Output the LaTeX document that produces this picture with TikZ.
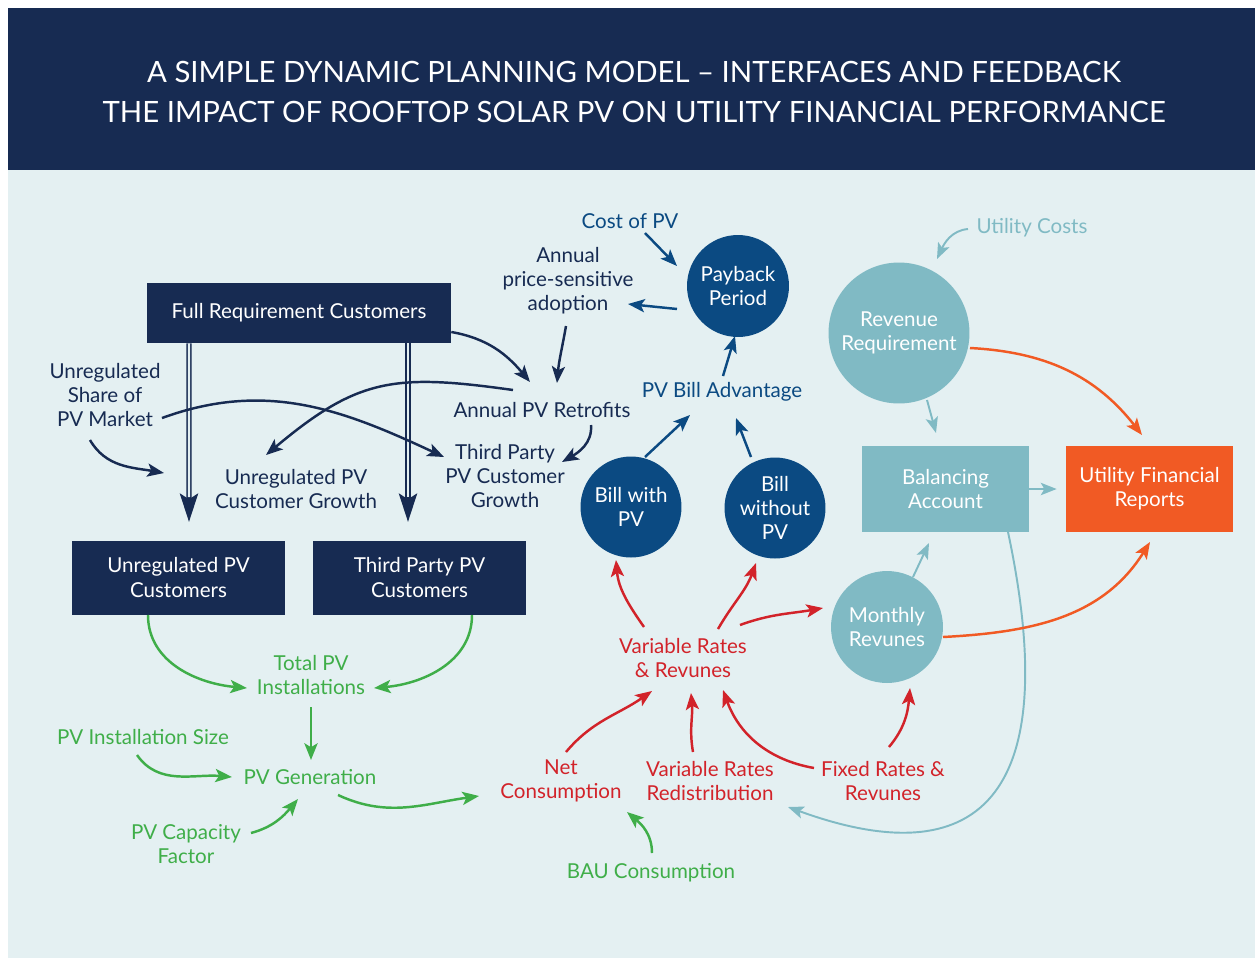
\documentclass[tikz,border=0pt]{standalone}
\usepackage{fontspec}
\setmainfont{Lato}
\usetikzlibrary{arrows.meta}

\definecolor{navy}{HTML}{172B52}
\definecolor{inkblue}{HTML}{0B4A82}
\definecolor{paleblue}{HTML}{E4F0F2}
\definecolor{utilteal}{HTML}{80BAC4}
\definecolor{reportorange}{HTML}{F15A24}
\definecolor{ratered}{HTML}{D2232A}
\definecolor{pvgreen}{HTML}{3FAE49}

\newcommand{\lblfont}{\fontsize{11.7}{13.7}\selectfont}
\newcommand{\headfont}{\fontsize{16.7}{22.8}\selectfont}

\tikzset{
  lbl/.style={inner sep=0pt, align=center, font=\lblfont},
  darkbox/.style={fill=navy, text=white, align=center, font=\lblfont},
  disc/.style={circle, fill=inkblue, text=white, align=center, inner sep=0pt, font=\lblfont},
  arr/.style={line width=1.4pt, -{Stealth[length=9.5pt,width=7.5pt,inset=2.2pt]}},
  thinarr/.style={line width=1.1pt, -{Stealth[length=9pt,width=7pt,inset=2pt]}},
  dblarr/.style={navy, line width=3.1pt, -{Stealth[length=16pt,width=10pt,inset=3pt]}},
}

\begin{document}
\begin{tikzpicture}[x=0.02cm, y=-0.02cm]
  % page, header band and panel
  \fill[white] (0,0) rectangle (1255,961);
  \fill[paleblue] (8,170) rectangle (1255,958);
  \fill[navy] (8,8) rectangle (1255,170);
  \node[lbl, text=white, font=\headfont] (title) at (634,92)
    {A SIMPLE DYNAMIC PLANNING MODEL -- INTERFACES AND FEEDBACK\\
     THE IMPACT OF ROOFTOP SOLAR PV ON UTILITY FINANCIAL PERFORMANCE};

  % customer boxes
  \node[darkbox, minimum width=6.08cm, minimum height=1.2cm] (full) at (299,313) {Full Requirement Customers};
  \node[darkbox, minimum width=4.26cm, minimum height=1.48cm] (unregbox) at (178.5,577.5) {Unregulated PV\\Customers};
  \node[darkbox, minimum width=4.26cm, minimum height=1.48cm] (thirdbox) at (419.5,577.5) {Third Party PV\\Customers};

  % bill circles
  \node[disc, minimum size=2.04cm] (payback) at (738,286) {Payback\\Period};
  \node[disc, minimum size=2.02cm] (billwith) at (631,507) {Bill with\\PV};
  \node[disc, minimum size=2.02cm] (billwo) at (775,508) {Bill\\without\\PV};

  % utility side
  \node[disc, fill=utilteal, minimum size=2.82cm] (revreq) at (899,333) {Revenue\\Requirement};
  \node[darkbox, fill=utilteal, minimum width=3.34cm, minimum height=1.72cm] (balance) at (945.5,489) {Balancing\\Account};
  \node[darkbox, fill=reportorange, minimum width=3.34cm, minimum height=1.72cm] (reports) at (1149.5,489) {Utility Financial\\Reports};
  \node[disc, fill=utilteal, minimum size=2.24cm] (monthly) at (887,627) {Monthly\\Revunes};

  % text labels
  \node[lbl, text=inkblue] (costpv) at (630,221) {Cost of PV};
  \node[lbl, text=navy] (adopt) at (568,281) {Annual\\price-sensitive\\adoption};
  \node[lbl, text=inkblue] (billadv) at (722,392) {PV Bill Advantage};
  \node[lbl, text=navy] (retro) at (542,410) {Annual PV Retrofits};
  \node[lbl, text=navy] (share) at (105,395) {Unregulated\\Share of\\PV Market};
  \node[lbl, text=navy] (unreggrowth) at (296,489) {Unregulated PV\\Customer Growth};
  \node[lbl, text=navy] (thirdgrowth) at (505,476) {Third Party\\PV Customer\\Growth};
  \node[lbl, text=utilteal] (utilcost) at (1032,228) {Utility Costs};
  \node[lbl, text=pvgreen] (totalpv) at (311,675) {Total PV\\Installations};
  \node[lbl, text=pvgreen] (instsize) at (143,737) {PV Installation Size};
  \node[lbl, text=pvgreen] (pvgen) at (310,777) {PV Generation};
  \node[lbl, text=pvgreen] (capfac) at (186,844) {PV Capacity\\Factor};
  \node[lbl, text=pvgreen] (bau) at (651,873) {BAU Consumption};
  \node[lbl, text=ratered] (varrates) at (683,658) {Variable Rates\\\& Revunes};
  \node[lbl, text=ratered] (netcons) at (561,781) {Net\\Consumption};
  \node[lbl, text=ratered] (varredist) at (710,781) {Variable Rates\\Redistribution};
  \node[lbl, text=ratered] (fixed) at (883,781) {Fixed Rates \&\\Revunes};

  % double flows out of the full requirement box
  \foreach \dx/\ex/\target in {-110/10.5/unregbox, 109/-11.5/thirdbox}{
    \draw[dblarr] ([shift={(\dx,0)}]full.south) -- ([shift={(\ex,-18)}]\target.north);
    \draw[paleblue, line width=1.3pt] ([shift={(\dx,0)}]full.south) -- ([shift={(\ex,-43)}]\target.north);
  }

  % adoption links
  \draw[arr, navy] ([shift={(0,19)}]full.east) to[out=-10,in=130] ([shift={(-12,-28)}]retro.center);
  \draw[arr, navy] ([shift={(-2,45)}]adopt.center) to[out=-100,in=85] ([shift={(15,-27)}]retro.center);
  \draw[arr, navy] ([shift={(-29,-20)}]retro.center) to[out=172,in=40,looseness=1.2] ([shift={(-30,-34)}]unreggrowth.center);
  \draw[arr, navy] ([shift={(57,23)}]share.center) to[out=20,in=155] ([shift={(-61,-19)}]thirdgrowth.center);
  \draw[arr, navy] ([shift={(-15,45)}]share.center) to[out=-60,in=170] ([shift={(-132,-16)}]unreggrowth.center);
  \draw[arr, navy] ([shift={(49,15)}]retro.center) to[out=-85,in=30] ([shift={(57,-14)}]thirdgrowth.center);

  % payback links
  \draw[arr, inkblue] ([shift={(15,12)}]costpv.center) -- ([shift={(-61,-20)}]payback.center);
  \draw[arr, inkblue] ([shift={(-61,23)}]payback.center) -- ([shift={(60,23)}]adopt.center);
  \draw[arr, inkblue] ([shift={(1,-16)}]billadv.center) -- ([shift={(-3,50)}]payback.center);
  \draw[arr, inkblue] ([shift={(14,-50)}]billwith.center) -- ([shift={(-32,23)}]billadv.center);
  \draw[arr, inkblue] ([shift={(-24,-51)}]billwo.center) -- ([shift={(14,26)}]billadv.center);

  % rate links
  \draw[arr, ratered] ([shift={(-39,-31)}]varrates.center) to[out=125,in=-85] ([shift={(-15,53)}]billwith.center);
  \draw[arr, ratered] ([shift={(35,-29)}]varrates.center) to[out=60,in=-110] ([shift={(-19,55)}]billwo.center);
  \draw[arr, ratered] ([shift={(57,-33)}]varrates.center) to[out=20,in=190] ([shift={(-64,-19)}]monthly.center);
  \draw[arr, ratered] ([shift={(5,-29)}]netcons.center) to[out=50,in=215] ([shift={(-31,33)}]varrates.center);
  \draw[arr, ratered] ([shift={(-17,-29)}]varredist.center) to[out=100,in=-85] ([shift={(8,35)}]varrates.center);
  \draw[arr, ratered] ([shift={(-69,-13)}]fixed.center) to[out=170,in=-70] ([shift={(40,32)}]varrates.center);
  \draw[arr, ratered] ([shift={(6,-34)}]fixed.center) to[out=50,in=-95] ([shift={(23,61)}]monthly.center);

  % utility links
  \draw[thinarr, utilteal] ([shift={(-64,1)}]utilcost.center) to[out=185,in=65] ([shift={(38,-74)}]revreq.center);
  \draw[thinarr, utilteal] ([shift={(28,67)}]revreq.center) -- ([shift={(-9.5,-56)}]balance.center);
  \draw[thinarr, utilteal] (balance.east) -- ([shift={(-9,0)}]reports.west);
  \draw[thinarr, utilteal] ([shift={(26,-50)}]monthly.center) -- ([shift={(-16.5,54)}]balance.center);
  \draw[thinarr, utilteal] ([shift={(62.5,43)}]balance.center) .. controls +(-78:5.5cm) and +(-20:4cm) .. ([shift={(78,26)}]varredist.center);
  \draw[arr, reportorange] ([shift={(71,15)}]revreq.center) to[out=-3,in=128] ([shift={(-7.5,-54)}]reports.center);
  \draw[arr, reportorange] ([shift={(56,10)}]monthly.center) to[out=3,in=-122] ([shift={(0.5,53)}]reports.center);

  % generation links
  \draw[arr, pvgreen] ([shift={(-30.5,37.5)}]unregbox.center) to[out=-90,in=175] ([shift={(-64,13)}]totalpv.center);
  \draw[arr, pvgreen] ([shift={(52.5,37.5)}]thirdbox.center) to[out=-90,in=5] ([shift={(63,13)}]totalpv.center);
  \draw[arr, pvgreen] ([shift={(0,32)}]totalpv.center) -- ([shift={(1,-17)}]pvgen.center);
  \draw[arr, pvgreen] ([shift={(-6,18)}]instsize.center) to[out=-55,in=175] ([shift={(-78,0)}]pvgen.center);
  \draw[arr, pvgreen] ([shift={(65,-11)}]capfac.center) to[out=15,in=-130] ([shift={(-12,22)}]pvgen.center);
  \draw[arr, pvgreen] ([shift={(28,18)}]pvgen.center) to[out=-25,in=188] ([shift={(-82,15)}]netcons.center);
  \draw[arr, pvgreen] ([shift={(1,-20)}]bau.center) to[out=90,in=-40] ([shift={(66,31)}]netcons.center);
\end{tikzpicture}
\end{document}
